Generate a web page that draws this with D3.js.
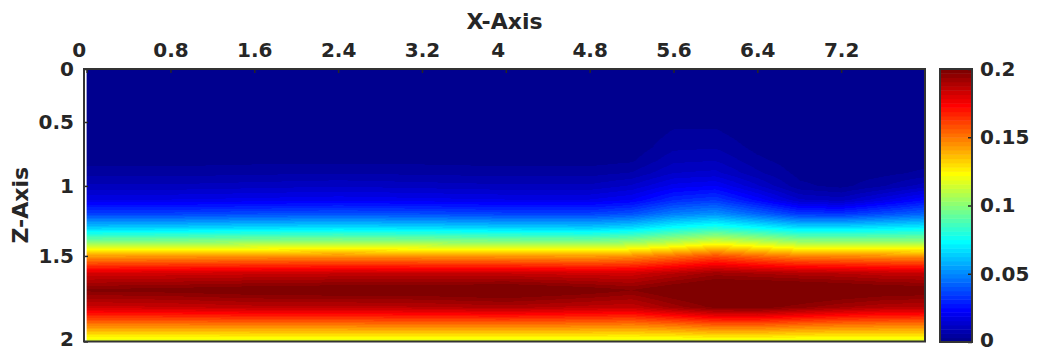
<!DOCTYPE html>
<html>
<head>
<meta charset="utf-8">
<script src="https://cdn.jsdelivr.net/npm/d3@7"></script>
<style>
  html, body { margin: 0; padding: 0; background: #fff; }
  svg { display: block; }
  text { font-family: "DejaVu Sans", sans-serif; font-weight: bold; fill: #262626; }
</style>
</head>
<body>
<svg id="chart" width="1037" height="352"></svg>
<script>
// ---- tick labels ----
const xTicks = [0, 0.8, 1.6, 2.4, 3.2, 4, 4.8, 5.6, 6.4, 7.2];
const zTicks = [0, 0.5, 1, 1.5, 2];
const cTicks = [0, 0.05, 0.1, 0.15, 0.2];

// ---- field samples: one vertical profile per x station ----
const xStations = [0, 0.8, 1.6, 2.4, 3.2, 4.0, 4.8, 5.2, 5.6, 6.0, 6.4, 6.8, 7.2, 7.6, 8.0];
const zLevels = [0, 0.3, 0.5, 0.6, 0.7, 0.8, 0.9, 1.0, 1.1, 1.2, 1.3, 1.4, 1.5, 1.6, 1.7, 1.8, 1.9, 2.0];
const profiles = [
  [0, 0, 0, 0, 0.0003, 0.0015, 0.005, 0.010, 0.019, 0.036, 0.064, 0.099, 0.142, 0.181, 0.198, 0.183, 0.150, 0.116],
  [0, 0, 0, 0, 0.0003, 0.0015, 0.005, 0.010, 0.019, 0.036, 0.065, 0.100, 0.143, 0.182, 0.199, 0.184, 0.150, 0.116],
  [0, 0, 0, 0, 0.0004, 0.0020, 0.0055, 0.011, 0.020, 0.038, 0.067, 0.102, 0.144, 0.183, 0.201, 0.186, 0.151, 0.116],
  [0, 0, 0, 0, 0.0004, 0.0020, 0.006, 0.012, 0.021, 0.039, 0.068, 0.103, 0.145, 0.184, 0.202, 0.186, 0.151, 0.116],
  [0, 0, 0, 0, 0.0004, 0.0020, 0.0055, 0.011, 0.020, 0.038, 0.067, 0.102, 0.144, 0.184, 0.202, 0.187, 0.152, 0.116],
  [0, 0, 0, 0, 0.0003, 0.0015, 0.005, 0.010, 0.019, 0.036, 0.065, 0.100, 0.143, 0.184, 0.204, 0.189, 0.152, 0.116],
  [0, 0, 0, 0, 0.0003, 0.0015, 0.005, 0.010, 0.019, 0.036, 0.064, 0.099, 0.142, 0.182, 0.200, 0.186, 0.151, 0.116],
  [0, 0, 0, 0.0002, 0.0008, 0.0025, 0.0065, 0.013, 0.022, 0.039, 0.067, 0.102, 0.145, 0.182, 0.197, 0.185, 0.150, 0.116],
  [0, 0, 0.0022, 0.0038, 0.0055, 0.0085, 0.0125, 0.020, 0.031, 0.048, 0.075, 0.109, 0.151, 0.187, 0.202, 0.192, 0.153, 0.116],
  [0, 0, 0.0022, 0.0040, 0.0060, 0.0092, 0.0135, 0.022, 0.034, 0.052, 0.080, 0.117, 0.158, 0.192, 0.206, 0.198, 0.157, 0.117],
  [0, 0, 0, 0.0008, 0.0020, 0.0040, 0.007, 0.013, 0.024, 0.043, 0.074, 0.111, 0.152, 0.190, 0.207, 0.199, 0.157, 0.117],
  [0, 0, 0, 0, 0.0003, 0.0010, 0.002, 0.004, 0.013, 0.034, 0.068, 0.104, 0.147, 0.188, 0.206, 0.195, 0.154, 0.116],
  [0, 0, 0, 0, 0, 0.0003, 0.0008, 0.002, 0.011, 0.033, 0.068, 0.103, 0.146, 0.187, 0.204, 0.191, 0.152, 0.116],
  [0, 0, 0, 0, 0.0002, 0.0008, 0.002, 0.006, 0.018, 0.038, 0.070, 0.103, 0.145, 0.185, 0.202, 0.188, 0.151, 0.116],
  [0, 0, 0, 0, 0.0004, 0.0015, 0.004, 0.011, 0.025, 0.043, 0.072, 0.103, 0.144, 0.184, 0.201, 0.187, 0.151, 0.116]
];
const colorLimits = [0, 0.2];

// ---- layout ----
const plot = { left: 84, right: 925, top: 69, bottom: 341.5 };
const cbar = { left: 940, right: 972, top: 69, bottom: 342 };
// vertical grid is stretched: fraction of plot height at each z tick
const zTickFractions = [0, 0.1945, 0.429, 0.686, 1];

const svg = d3.select("#chart");

const x = d3.scaleLinear().domain([-0.025, 8]).range([plot.left, plot.right]);
const z = d3.scaleLinear()
  .domain(zTicks)
  .range(zTickFractions.map(f => plot.top + f * (plot.bottom - plot.top)));

// MATLAB-style jet colormap with n entries
function jetColormap(n) {
  const m = Math.ceil(n / 4);
  const u = [];
  for (let i = 1; i <= m; i++) u.push(i / m);
  for (let i = 1; i < m; i++) u.push(1);
  for (let i = m; i >= 1; i--) u.push(i / m);
  const off = Math.ceil(m / 2) - (n % 4 === 1 ? 1 : 0);
  const J = d3.range(n).map(() => [0, 0, 0]);
  u.forEach((v, k) => {
    const g = off + k + 1, r = g + m, b = g - m;
    if (r >= 1 && r <= n) J[r - 1][0] = v;
    if (g >= 1 && g <= n) J[g - 1][1] = v;
    if (b >= 1 && b <= n) J[b - 1][2] = v;
  });
  return J.map(c => d3.rgb(c[0] * 255, c[1] * 255, c[2] * 255));
}
const jet = jetColormap(64);
const color = d3.scaleQuantize().domain(colorLimits).range(jet);

// bilinear lookup in the sampled field (interpolated shading)
const bx = d3.bisector(d => d).right;
function fieldAt(xv, zv) {
  let i = Math.min(Math.max(bx(xStations, xv) - 1, 0), xStations.length - 2);
  let j = Math.min(Math.max(bx(zLevels, zv) - 1, 0), zLevels.length - 2);
  const tx = Math.min(Math.max((xv - xStations[i]) / (xStations[i + 1] - xStations[i]), 0), 1);
  const tz = Math.min(Math.max((zv - zLevels[j]) / (zLevels[j + 1] - zLevels[j]), 0), 1);
  const a = profiles[i][j], b = profiles[i + 1][j];
  const c = profiles[i][j + 1], d = profiles[i + 1][j + 1];
  return (a * (1 - tx) + b * tx) * (1 - tz) + (c * (1 - tx) + d * tx) * tz;
}

// ---- heat map raster ----
const x0 = x(xStations[0]), x1 = x(xStations[xStations.length - 1]);
const y0 = z(zLevels[0]), y1 = z(zLevels[zLevels.length - 1]);
const W = Math.round(x1 - x0), H = Math.round(y1 - y0);
const canvas = document.createElement("canvas");
canvas.width = W; canvas.height = H;
const ctx = canvas.getContext("2d");
const img = ctx.createImageData(W, H);
for (let py = 0; py < H; py++) {
  const zv = z.invert(y0 + py + 0.5);
  for (let px = 0; px < W; px++) {
    const xv = x.invert(x0 + px + 0.5);
    const c = color(fieldAt(xv, zv));
    const k = (py * W + px) * 4;
    img.data[k] = c.r; img.data[k + 1] = c.g; img.data[k + 2] = c.b; img.data[k + 3] = 255;
  }
}
ctx.putImageData(img, 0, 0);
svg.append("image")
  .attr("x", x0).attr("y", y0)
  .attr("width", W).attr("height", H)
  .attr("preserveAspectRatio", "none")
  .attr("href", canvas.toDataURL());

// ---- axes ----
const xAxis = d3.axisTop(x).tickValues(xTicks).tickSizeInner(-4).tickSizeOuter(0).tickPadding(12)
  .tickFormat(d => String(d));
const gx = svg.append("g").attr("transform", `translate(0,${plot.top})`).call(xAxis);
gx.select(".domain").remove();
gx.selectAll("line").attr("stroke", "#262626").attr("stroke-width", 1.5);
gx.selectAll("text").attr("font-size", 20).attr("fill", "#262626")
  .attr("dx", d => Number.isInteger(d) ? -8 : 0);

const zAxis = d3.axisLeft(z).tickValues(zTicks).tickSizeInner(-4).tickSizeOuter(0).tickPadding(10)
  .tickFormat(d => String(d));
const gz = svg.append("g").attr("transform", `translate(${plot.left},0)`).call(zAxis);
gz.select(".domain").remove();
gz.selectAll("line").attr("stroke", "#262626").attr("stroke-width", 1.5);
gz.selectAll("text").attr("font-size", 20).attr("fill", "#262626")
  .attr("dy", d => d === zTicks[zTicks.length - 1] ? "0.22em" : "0.32em");

svg.append("rect")
  .attr("x", plot.left).attr("y", plot.top)
  .attr("width", plot.right - plot.left).attr("height", plot.bottom - plot.top)
  .attr("fill", "none").attr("stroke", "#333").attr("stroke-width", 2);

// axis titles
svg.append("text").attr("x", (plot.left + plot.right) / 2).attr("y", 29)
  .attr("text-anchor", "middle").attr("font-size", 22).text("X-Axis");
svg.append("text")
  .attr("transform", `translate(28,${(plot.top + plot.bottom) / 2}) rotate(-90)`)
  .attr("text-anchor", "middle").attr("font-size", 22).text("Z-Axis");

// ---- colour bar ----
const cScale = d3.scaleLinear().domain(colorLimits).range([cbar.bottom, cbar.top]);
const step = (colorLimits[1] - colorLimits[0]) / jet.length;
svg.append("g").selectAll("rect")
  .data(jet)
  .join("rect")
  .attr("x", cbar.left)
  .attr("width", cbar.right - cbar.left)
  .attr("y", (d, i) => cScale(colorLimits[0] + (i + 1) * step))
  .attr("height", (d, i) => cScale(colorLimits[0] + i * step) - cScale(colorLimits[0] + (i + 1) * step) + 0.5)
  .attr("fill", d => d.formatHex());

const cAxis = d3.axisRight(cScale).tickValues(cTicks).tickSizeInner(-4).tickSizeOuter(0).tickPadding(8)
  .tickFormat(d => String(d));
const gc = svg.append("g").attr("transform", `translate(${cbar.right},0)`).call(cAxis);
gc.select(".domain").remove();
gc.selectAll("line").attr("stroke", "#262626").attr("stroke-width", 1.5);
gc.selectAll("text").attr("font-size", 20).attr("fill", "#262626")
  .attr("dy", d => d === colorLimits[0] ? "0.22em" : "0.32em");

svg.append("rect")
  .attr("x", cbar.left).attr("y", cbar.top)
  .attr("width", cbar.right - cbar.left).attr("height", cbar.bottom - cbar.top)
  .attr("fill", "none").attr("stroke", "#333").attr("stroke-width", 2);
</script>
</body>
</html>
